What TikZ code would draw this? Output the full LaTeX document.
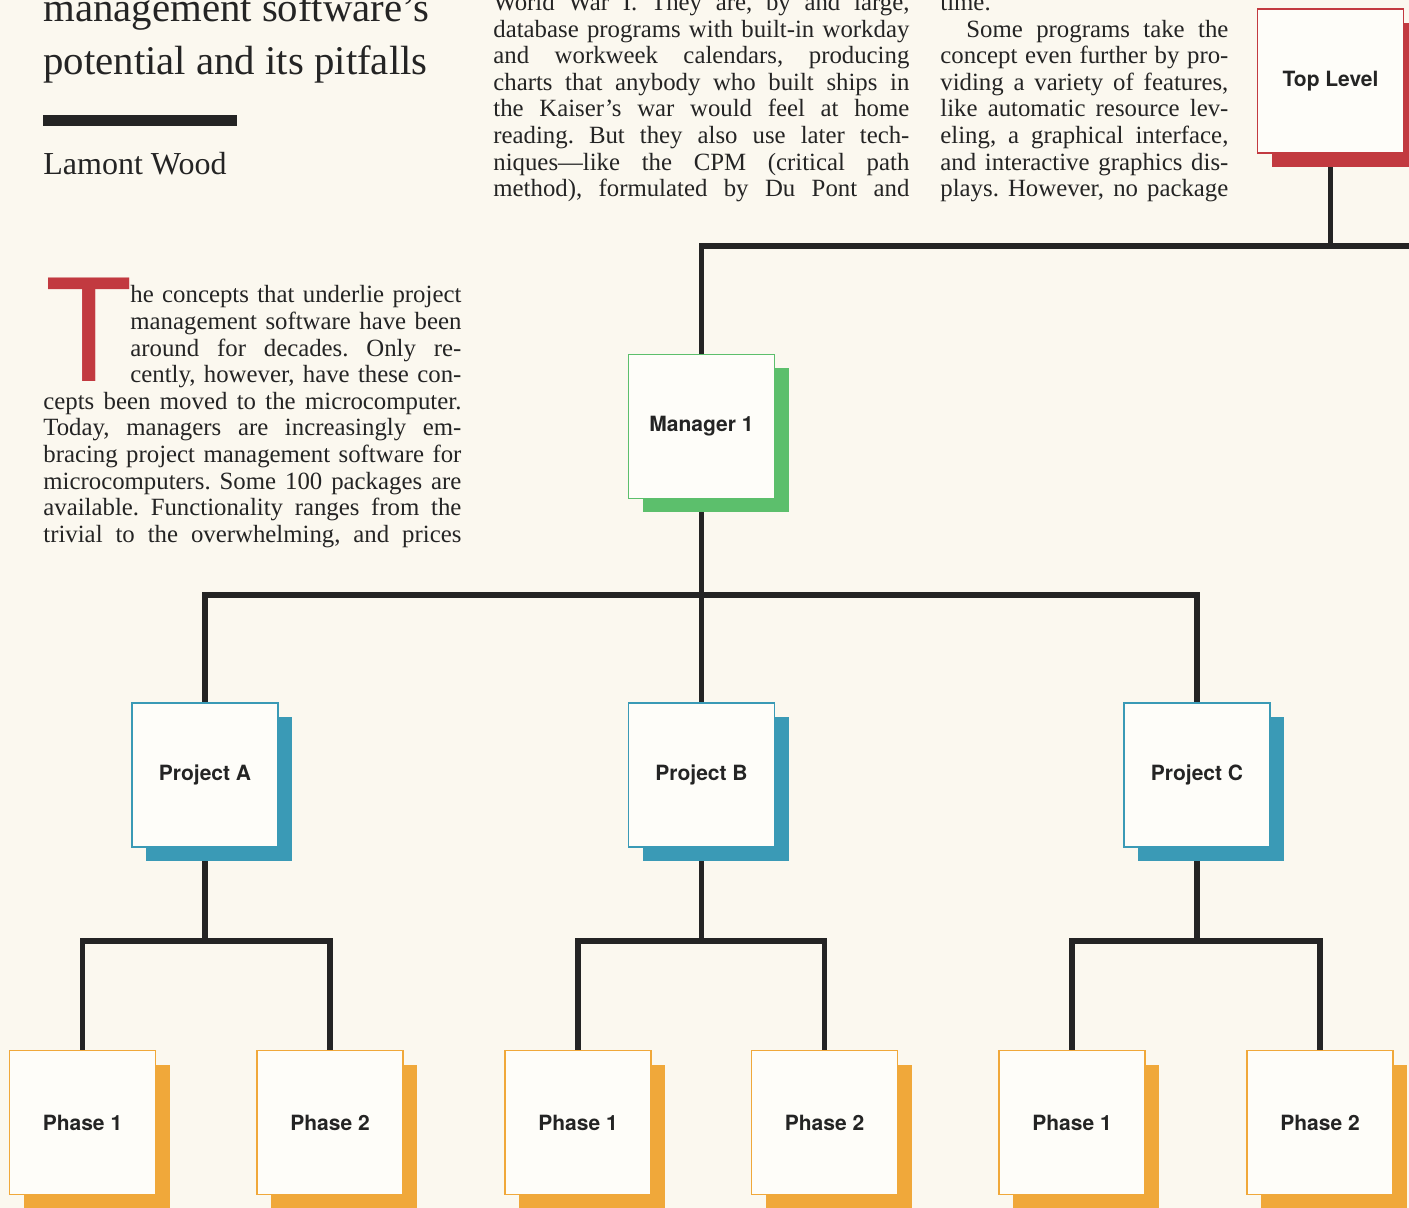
\documentclass[tikz,border=0pt]{standalone}
\usepackage{fontspec}
\setmainfont{Liberation Serif}
\newfontfamily\labelfont{TeX Gyre Heros}
\usetikzlibrary{shadows,backgrounds}
\frenchspacing

\definecolor{paper}{HTML}{FBF8EF}
\definecolor{ink}{HTML}{242424}
\definecolor{boxfill}{HTML}{FEFDF9}
\definecolor{toprd}{HTML}{C23A40}
\definecolor{mgrgr}{HTML}{5CBF6C}
\definecolor{projbl}{HTML}{3A9AB6}
\definecolor{phaseor}{HTML}{F0A83A}

% one justified line of a column
\newcommand{\jl}[2][209pt]{\makebox[#1][s]{#2}}

\begin{document}
\begin{tikzpicture}[x=0.5pt, y=-0.5pt,
    chartbox/.style={draw=#1, line width=0.8pt, fill=boxfill, text=ink,
      minimum width=73pt, minimum height=72pt, inner sep=0pt,
      font=\labelfont\bfseries\fontsize{10.5}{12}\selectfont,
      general shadow={fill=#1, shadow xshift=7pt, shadow yshift=-7pt}},
    link/.style={draw=ink, line width=2.7pt},
    bodyline/.style={anchor=base west, inner sep=0pt, text=ink,
      font=\fontsize{12.4}{13.3}\selectfont},
    headline/.style={anchor=base west, inner sep=0pt, text=ink,
      font=\fontsize{20.4}{24}\selectfont}]
  \useasboundingbox (0,0) rectangle (1409,1208);
  \clip (0,0) rectangle (1409,1208);

  % Heading and byline
  \node[headline] (title1) at (43,22) {management software’s};
  \node[headline] (title2) at (43,75) {potential and its pitfalls};
  \fill[ink] (43,115) rectangle (237,126);
  \node[headline, font=\fontsize{16}{19}\selectfont] (author) at (43,175) {Lamont Wood};

  % First column with the initial
  \node[anchor=base west, inner sep=0pt, text=toprd,
    font=\labelfont\fontsize{71}{71}\selectfont] (initial) at (45,382) {T};
  \foreach \txt [count=\i from 0] in {{he concepts that underlie project},
      {management software have been},{around for decades. Only re-},
      {cently, however, have these con-}}
    \node[bodyline] (capl\i) at (130,{303+26.6*\i}) {\jl[165.5pt]{\txt}};
  \foreach \txt [count=\i from 0] in {{cepts been moved to the microcomputer.},
      {Today, managers are increasingly em-},
      {bracing project management software for},
      {microcomputers. Some 100 packages are},
      {available. Functionality ranges from the},
      {trivial to the overwhelming, and prices}}
    \node[bodyline] (onel\i) at (43,{409.4+26.6*\i}) {\jl{\txt}};

  % Second column
  \foreach \txt [count=\i from 0] in {{World War I. They are, by and large,},
      {database programs with built-in workday},
      {and workweek calendars, producing},
      {charts that anybody who built ships in},
      {the Kaiser’s war would feel at home},
      {reading. But they also use later tech-},
      {niques—like the CPM (critical path},
      {method), formulated by Du Pont and}}
    \node[bodyline] (twol\i) at (493,{10.6+26.6*\i}) {\jl[208pt]{\txt}};

  % Third column
  \node[bodyline] (threel0) at (940,10.6) {time.};
  \node[bodyline] (threel1) at (966,37.2) {\jl[131pt]{Some programs take the}};
  \foreach \txt [count=\i from 2] in {{concept even further by pro-},
      {viding a variety of features,},{like automatic resource lev-},
      {eling, a graphical interface,},{and interactive graphics dis-},
      {plays. However, no package}}
    \node[bodyline] (threel\i) at (940,{10.6+26.6*\i}) {\jl[144pt]{\txt}};

  % The chart
  \node[chartbox=toprd] (top) at (1330.5,81) {Top Level};
  \node[chartbox=mgrgr] (mgr) at (701.5,426.5) {Manager 1};

  \node[chartbox=projbl] (pA) at (205,775) {Project A};
  \node[chartbox=projbl] (pB) at (701.5,775) {Project B};
  \node[chartbox=projbl] (pC) at (1197,775) {Project C};

  \node[chartbox=phaseor] (pA1) at (82.5,1122.5) {Phase 1};
  \node[chartbox=phaseor] (pA2) at (330,1122.5) {Phase 2};
  \node[chartbox=phaseor] (pB1) at (578,1122.5) {Phase 1};
  \node[chartbox=phaseor] (pB2) at (824.5,1122.5) {Phase 2};
  \node[chartbox=phaseor] (pC1) at (1072,1122.5) {Phase 1};
  \node[chartbox=phaseor] (pC2) at (1320,1122.5) {Phase 2};

  % Paper and connectors go underneath
  \begin{scope}[on background layer]
    \fill[paper] (0,0) rectangle (1409,1208);
    \coordinate (edge) at (1409,246);
    \draw[link] (top.south) -- (top.south |- edge);
    \draw[link] (mgr.north) |- (edge);

    \coordinate (hubM) at (701.5,595);
    \draw[link] (mgr.south) -- (pB.north);
    \draw[link] (pA.north) |- (hubM) -| (pC.north);

    \coordinate (hubA) at (205,941);
    \coordinate (hubB) at (701.5,941);
    \coordinate (hubC) at (1197,941);
    \draw[link] (pA.south) -- (hubA);
    \draw[link] (pB.south) -- (hubB);
    \draw[link] (pC.south) -- (hubC);
    \draw[link] (pA1.north) |- (hubA) -| (pA2.north);
    \draw[link] (pB1.north) |- (hubB) -| (pB2.north);
    \draw[link] (pC1.north) |- (hubC) -| (pC2.north);
  \end{scope}
\end{tikzpicture}
\end{document}
